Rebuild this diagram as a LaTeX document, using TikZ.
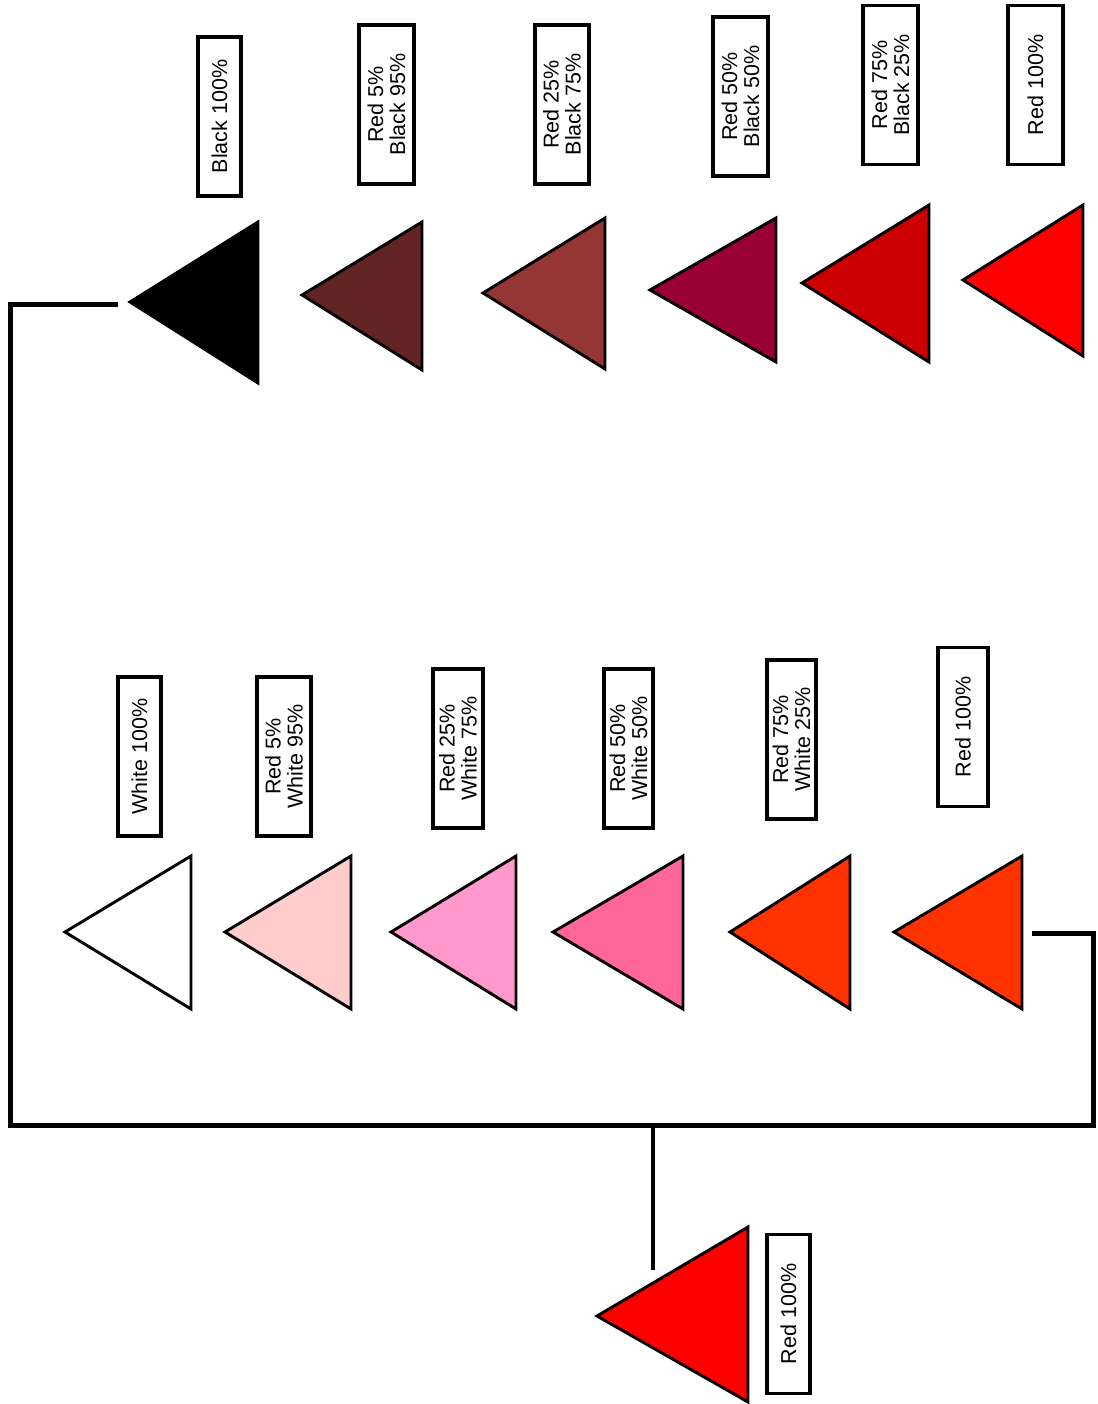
\documentclass[tikz,border=0pt]{standalone}
\usepackage{fontspec}
\setmainfont{Liberation Sans}
\definecolor{redA}{HTML}{FF0000}
\definecolor{redBlkA}{HTML}{CC0000}
\definecolor{redBlkB}{HTML}{990033}
\definecolor{redBlkC}{HTML}{943634}
\definecolor{redBlkD}{HTML}{632523}
\definecolor{redWhtA}{HTML}{FF3300}
\definecolor{redWhtB}{HTML}{FF6699}
\definecolor{redWhtC}{HTML}{FF99CC}
\definecolor{redWhtD}{HTML}{FFCCCC}
\begin{document}
\begin{tikzpicture}[x=1pt,y=-1pt,
  tri/.style={draw=black,line width=2.9pt,line join=miter},
  lbl/.style={draw=black,line width=3.1pt,rotate=90,align=center,inner sep=0pt,
    minimum width=159pt,font=\fontsize{21.5}{22}\selectfont},
  wire/.style={line width=5pt},
  stem/.style={line width=3.8pt}]%
% red / black row
\useasboundingbox (0,0) rectangle (1097,1404);
\draw[tri,fill=black] (130,302) -- (258,222) -- (258,383) -- cycle;
\draw[tri,fill=redBlkD] (302,295) -- (422,222) -- (422,370) -- cycle;
\draw[tri,fill=redBlkC] (483,293) -- (605,218) -- (605,369) -- cycle;
\draw[tri,fill=redBlkB] (650,290) -- (776,218) -- (776,362) -- cycle;
\draw[tri,fill=redBlkA] (802,283) -- (929,205) -- (929,362) -- cycle;
\draw[tri,fill=redA] (963,280) -- (1083,205) -- (1083,356) -- cycle;
\node[lbl,minimum height=43pt] (lB100) at (219.5,116.5) {Black 100\%};
\node[lbl,minimum height=55pt] (lR5B95) at (386.5,104.5) {Red 5\%\\Black 95\%};
\node[lbl,minimum height=54pt] (lR25B75) at (562,104.5) {Red 25\%\\Black 75\%};
\node[lbl,minimum height=55pt] (lR50B50) at (740.5,96.5) {Red 50\%\\Black 50\%};
\node[lbl,minimum height=55pt] (lR75B25) at (890.5,85) {Red 75\%\\Black 25\%};
\node[lbl,minimum height=55pt] (lR100a) at (1035.5,85) {Red 100\%};
% red / white row
\draw[tri,fill=white] (65,932) -- (191,856) -- (191,1009) -- cycle;
\draw[tri,fill=redWhtD] (225,932) -- (351,856) -- (351,1009) -- cycle;
\draw[tri,fill=redWhtC] (391,932) -- (516,856) -- (516,1009) -- cycle;
\draw[tri,fill=redWhtB] (553,932) -- (683,856) -- (683,1009) -- cycle;
\draw[tri,fill=redWhtA] (730,932) -- (850,856) -- (850,1009) -- cycle;
\draw[tri,fill=redWhtA] (894,932) -- (1022,856) -- (1022,1009) -- cycle;
\node[lbl,minimum height=43pt] (lW100) at (139.5,756.5) {White 100\%};
\node[lbl,minimum height=54pt] (lR5W95) at (284,756.5) {Red 5\%\\White 95\%};
\node[lbl,minimum height=50pt] (lR25W75) at (458,748.5) {Red 25\%\\White 75\%};
\node[lbl,minimum height=49pt] (lR50W50) at (628.5,748.5) {Red 50\%\\White 50\%};
\node[lbl,minimum height=49pt] (lR75W25) at (791.5,739.5) {Red 75\%\\White 25\%};
\node[lbl,minimum height=50pt] (lR100b) at (963,727) {Red 100\%};
% source
\draw[tri,fill=redA] (597,1316) -- (748,1227) -- (748,1402) -- cycle;
\node[lbl,minimum height=43pt] (lR100c) at (788.5,1314) {Red 100\%};
% wires
\coordinate (inB100) at (118,305);
\coordinate (outR100b) at (1032,933);
\coordinate (busL) at (10,1125);
\coordinate (busR) at (1093,1125);
\coordinate (stemTop) at (653,1125);
\coordinate (stemBot) at (653,1270);
\draw[wire] (inB100) -| (busL) -- (busR) |- (outR100b);
\draw[stem] (stemTop) -- (stemBot);
\end{tikzpicture}
\end{document}
